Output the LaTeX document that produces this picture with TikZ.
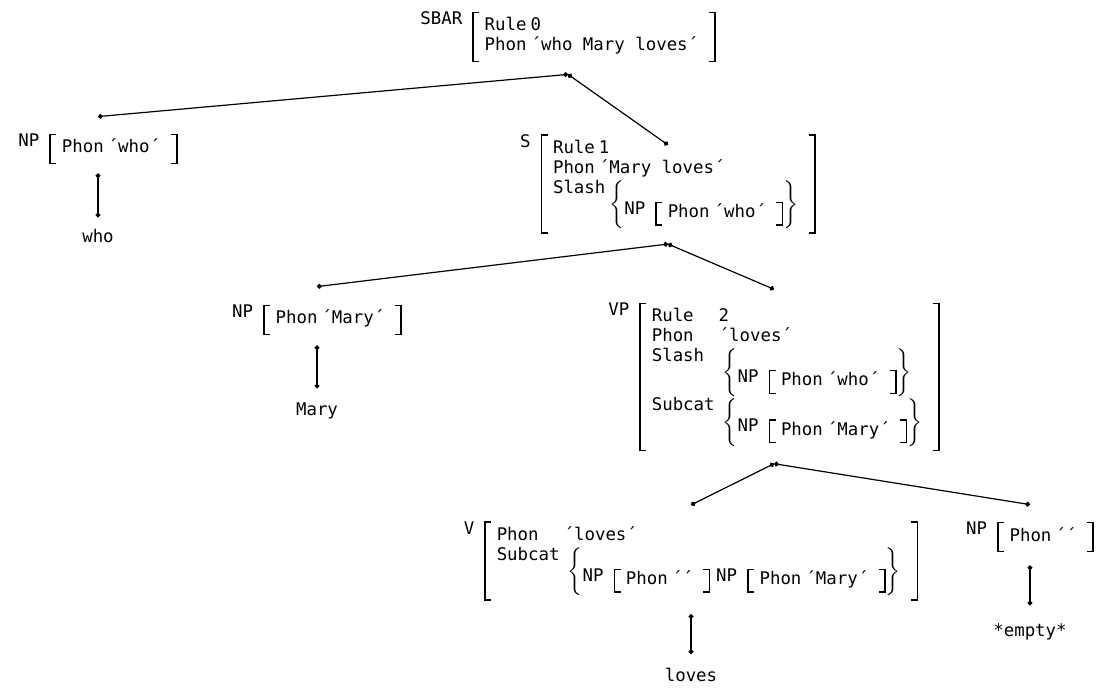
\documentclass[tikz,border=0pt]{standalone}
\usepackage{fontspec}
\setmainfont{DejaVu Sans Mono}
\usetikzlibrary{positioning,arrows.meta}

%% feature structures: label, thin brackets, attribute/value table
\newsavebox\avmbox
\newlength\avmht
\newlength\avmdp
\newcommand\brw{0.7pt}
\newcommand\brs{3.5pt}
\newcommand\brL{\rlap{\rule[\dimexpr\avmht-\brw\relax]{\brs}{\brw}}\rlap{\rule[-\avmdp]{\brs}{\brw}}\rule[-\avmdp]{\brw}{\dimexpr\avmht+\avmdp\relax}}
\newcommand\brR{\rule[-\avmdp]{\brw}{\dimexpr\avmht+\avmdp\relax}\llap{\rule[\dimexpr\avmht-\brw\relax]{\brs}{\brw}}\llap{\rule[-\avmdp]{\brs}{\brw}}}
\newcommand\avm[3][2.5pt]{{%
  \sbox\avmbox{\begin{tabular}{@{\hspace{5.5pt}}l@{\hspace{2pt}}l@{\hspace{8pt}}}#3\end{tabular}}%
  \setlength\avmht{\dimexpr\ht\avmbox+#1\relax}%
  \setlength\avmdp{\dimexpr\dp\avmbox+#1\relax}%
  \raisebox{\dimexpr\avmht-\height\relax}{#2}\hspace{5pt}%
  \brL\usebox\avmbox\brR}}
\newcommand\avmset[1]{\hspace{2pt}\raisebox{-12.4pt}{\raisebox{4.5pt}{$\biggl\{$}#1\raisebox{4.5pt}{$\biggr\}$}}}

\tikzset{
  fsnode/.style={inner sep=0pt, font=\fontsize{8.7}{10}\selectfont},
  leaf/.style={inner sep=0pt, font=\fontsize{8.7}{10}\selectfont},
  branch/.style={draw, line width=0.6pt, {Circle[length=2.4pt]}-{Circle[length=2.4pt]}},
}

\begin{document}
\begin{tikzpicture}[x=0.5pt, y=-0.5pt]
\useasboundingbox (0,0) rectangle (1103,689);
%% phrases
\node[fsnode] (sbar) at (568,37) {\avm{SBAR}{Rule&0\\ Phon&´who Mary loves´}};
\node[fsnode] (npwho) at (98,149) {\avm{NP}{Phon&´who´}};
\node[fsnode] (s) at (668,184) {\avm{S}{Rule&1\\ Phon&´Mary loves´\\
  \multicolumn{2}{@{\hspace{5.5pt}}l@{\hspace{8pt}}}{Slash\avmset{\avm[1pt]{NP}{Phon&´who´}}}}};
\node[fsnode] (npmary) at (317,320) {\avm{NP}{Phon&´Mary´}};
\node[fsnode] (vp) at (774,377) {\avm{VP}{Rule&2\\ Phon&´loves´\\
  Slash&\avmset{\avm[1pt]{NP}{Phon&´who´}}\\
  Subcat&\avmset{\avm[1pt]{NP}{Phon&´Mary´}}}};
\node[fsnode] (v) at (691,561) {\avm{V}{Phon&´loves´\\
  Subcat&\avmset{\avm[1pt]{NP}{Phon&´´}\hspace{3pt}\avm[1pt]{NP}{Phon&´Mary´}}}};
\node[fsnode] (npe) at (1030,537) {\avm{NP}{Phon&´´}};
%% words
\node[leaf, below=32pt of npwho] (who) {who};
\node[leaf, below=33.5pt of npmary] (mary) {Mary};
\node[leaf, below=33.5pt of v] (loves) {loves};
\node[leaf, below=35.5pt of npe] (empty) {*empty*};
%% attachment points
\coordinate (sbar-f) at ([yshift=-6pt]sbar.south);
\coordinate (npwho-h) at ([yshift=8.5pt]npwho.north);
\coordinate (npwho-f) at ([yshift=-4.5pt]npwho.south);
\coordinate (s-h) at ([yshift=-5.5pt]s.north);
\coordinate (s-f) at ([yshift=-5pt]s.south);
\coordinate (npmary-h) at ([yshift=9pt]npmary.north);
\coordinate (npmary-f) at ([yshift=-5pt]npmary.south);
\coordinate (vp-h) at ([yshift=6.5pt]vp.north);
\coordinate (vp-f) at ([yshift=-6pt]vp.south);
\coordinate (v-h) at ([yshift=8pt]v.north);
\coordinate (v-f) at ([yshift=-6.5pt]v.south);
\coordinate (npe-h) at ([yshift=8.5pt]npe.north);
\coordinate (npe-f) at ([yshift=-6.5pt]npe.south);
\coordinate (who-h) at ([yshift=5.5pt]who.north);
\coordinate (mary-h) at ([yshift=7pt]mary.north);
\coordinate (loves-h) at ([yshift=7pt]loves.north);
\coordinate (empty-h) at ([yshift=9pt]empty.north);
%% branches
\draw[branch] (sbar-f) -- (npwho-h);
\draw[branch] (sbar-f) -- (s-h);
\draw[branch] (s-f) -- (npmary-h);
\draw[branch] (s-f) -- (vp-h);
\draw[branch] (vp-f) -- (v-h);
\draw[branch] (vp-f) -- (npe-h);
\draw[branch] (npwho-f) -- (who-h);
\draw[branch] (npmary-f) -- (mary-h);
\draw[branch] (v-f) -- (loves-h);
\draw[branch] (npe-f) -- (empty-h);
\end{tikzpicture}
\end{document}
